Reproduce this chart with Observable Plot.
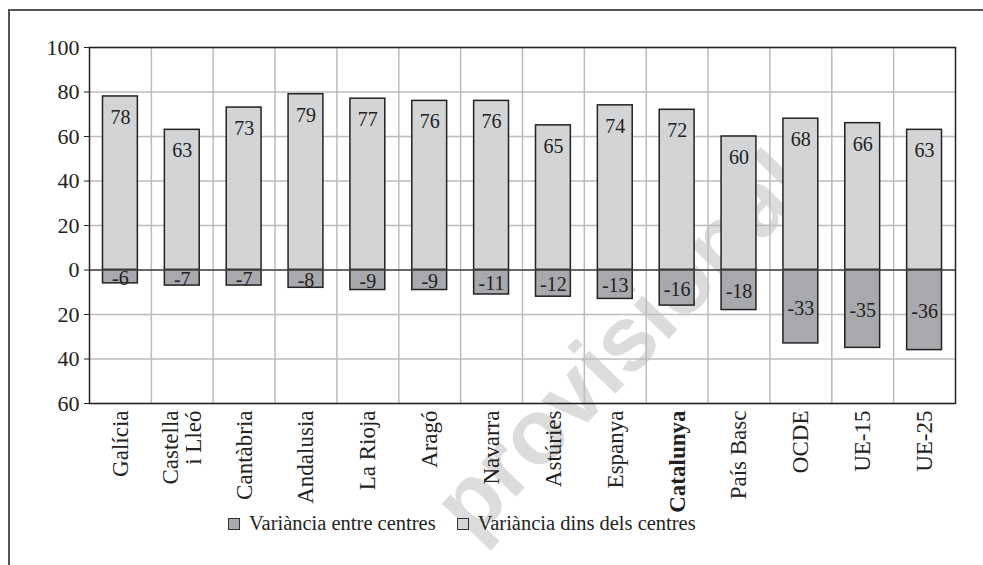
<!DOCTYPE html>
<html>
<head>
<meta charset="utf-8">
<script src="https://cdn.jsdelivr.net/npm/d3@7"></script>
<script src="https://cdn.jsdelivr.net/npm/@observablehq/plot@0.6"></script>
<style>
  html, body { margin: 0; padding: 0; background: #fff; }
  body { width: 983px; height: 565px; overflow: hidden; position: relative; font-family: "Liberation Serif", serif; color: #222; }
  #frame { position: absolute; left: 8px; top: 9px; right: -4px; bottom: -4px; border-top: 2px solid #555; border-left: 2px solid #555; }
  #wm { position: absolute; left: 620px; top: 343px; transform: translate(-50%, -50%) rotate(-46deg); font: 700 92px "Liberation Sans", sans-serif; color: #dcdcdc; white-space: nowrap; line-height: 1; }
  #chart { position: absolute; left: 0; top: 0; }
  #chart svg text { font-family: "Liberation Serif", serif; }
  #legend { position: absolute; left: 228px; top: 512px; font-size: 20.5px; display: flex; align-items: center; white-space: nowrap; }
  .sw { display: inline-block; width: 10px; height: 10px; border: 1px solid #333; margin-right: 9px; }
  .item { display: flex; align-items: center; margin-right: 21px; }
</style>
</head>
<body>
<div id="frame"></div>
<div id="wm">provisional</div>
<div id="chart"></div>
<div id="legend"></div>
<script>
const regions = ["Galícia", "Castella\ni Lleó", "Cantàbria", "Andalusia", "La Rioja", "Aragó", "Navarra", "Astúries", "Espanya", "Catalunya", "País Basc", "OCDE", "UE-15", "UE-25"];
const withinVar = [78, 63, 73, 79, 77, 76, 76, 65, 74, 72, 60, 68, 66, 63];
const betweenVar = [-6, -7, -7, -8, -9, -9, -11, -12, -13, -16, -18, -33, -35, -36];
const yTicks = [-60, -40, -20, 0, 20, 40, 60, 80, 100];
const seriesNames = ["Variància entre centres", "Variància dins dels centres"];
const seriesColors = ["#a8a9ac", "#d3d4d6"];
const highlight = "Catalunya";

const serif = "'Liberation Serif', serif";
const rows = regions.map((name, i) => ({i, name, within: withinVar[i], between: betweenVar[i]}));
const mid = d => d.i + 0.5;
const end = d => d.i + 1;
const barStyle = {stroke: "#222", strokeWidth: 1.5, insetLeft: 13.5, insetRight: 13.5};
const labelBase = {x: mid, y: () => -60, text: "name", rotate: -90, textAnchor: "end", lineAnchor: "middle", dy: 7, fontSize: 23, fontFamily: serif, fill: "#222"};

const plot = Plot.plot({
  width: 983,
  height: 515,
  marginLeft: 89,
  marginRight: 28,
  marginTop: 47,
  marginBottom: 112,
  style: {background: "transparent", fontFamily: serif, color: "#222"},
  x: {type: "linear", domain: [0, regions.length], axis: null},
  y: {domain: [-60, 100], axis: null},
  marks: [
    Plot.gridX(d3.range(1, regions.length), {stroke: "#bcbcbc", strokeOpacity: 1, strokeWidth: 1.5}),
    Plot.gridY(yTicks, {stroke: "#bcbcbc", strokeOpacity: 1, strokeWidth: 1.5}),
    Plot.rectY(rows, {x1: "i", x2: end, y1: () => 0, y2: "within", fill: seriesColors[1], ...barStyle}),
    Plot.rectY(rows, {x1: "i", x2: end, y1: () => 0, y2: "between", fill: seriesColors[0], ...barStyle}),
    Plot.ruleY([0], {stroke: "#444", strokeWidth: 1.5}),
    Plot.frame({stroke: "#222", strokeWidth: 1.5}),
    Plot.axisY(yTicks, {tickFormat: d => String(Math.abs(d)), tickSize: 5, tickPadding: 5, fontSize: 22, fontFamily: serif, stroke: "#222", fill: "#222"}),
    Plot.text(rows, {x: mid, y: "within", text: d => String(d.within), dy: 21, fontSize: 20, fontFamily: serif, fill: "#222"}),
    Plot.text(rows, {x: mid, y: d => d.between / 2, text: d => String(d.between), dy: 1.5, fontSize: 20, fontFamily: serif, fill: "#222"}),
    Plot.text(rows.filter(d => d.name !== highlight), labelBase),
    Plot.text(rows.filter(d => d.name === highlight), {...labelBase, fontWeight: "bold"})
  ]
});
document.getElementById("chart").appendChild(plot);

const legend = document.getElementById("legend");
seriesNames.forEach((name, k) => {
  const item = document.createElement("span");
  item.className = "item";
  const sw = document.createElement("span");
  sw.className = "sw";
  sw.style.background = seriesColors[k];
  item.appendChild(sw);
  item.appendChild(document.createTextNode(name));
  legend.appendChild(item);
});
</script>
</body>
</html>
